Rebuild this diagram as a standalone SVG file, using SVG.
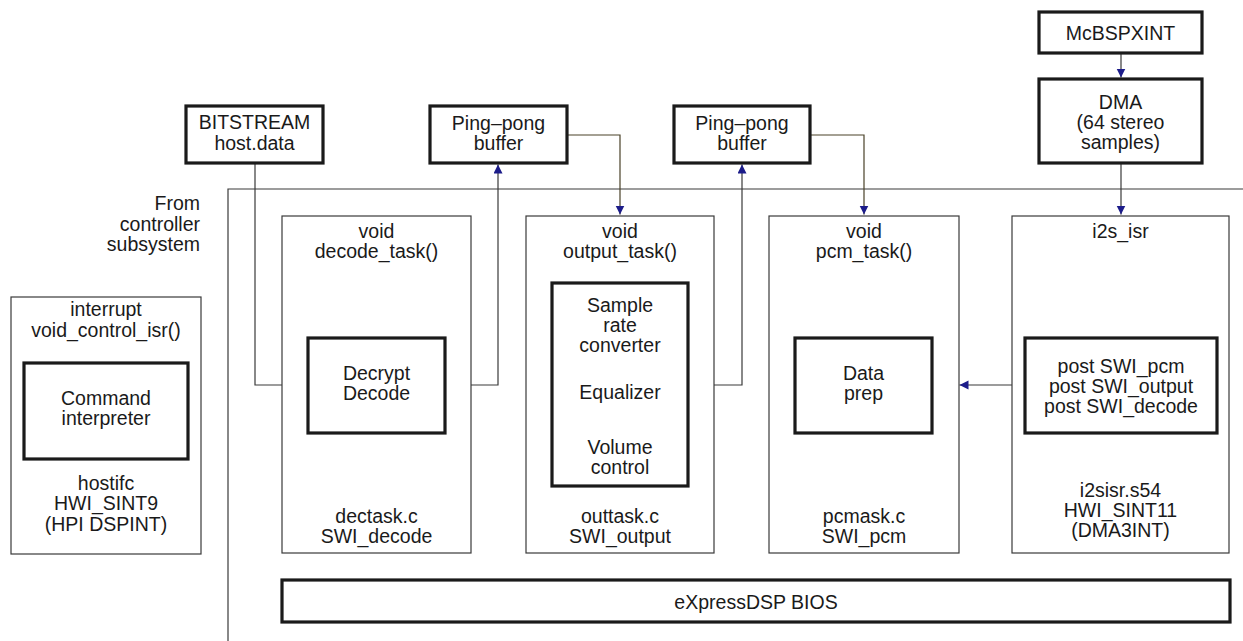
<svg xmlns="http://www.w3.org/2000/svg" width="1243" height="641" viewBox="0 0 1243 641">
  <style>
    text { font-family: "Liberation Sans", Arial, sans-serif; font-size: 19.5px; fill: #1a1a1a; text-anchor: middle; }
    .right { text-anchor: end; }
    .thin { fill: #fff; stroke: #3a3a3a; stroke-width: 1.2; }
    .thick { fill: #fff; stroke: #1a1a1a; stroke-width: 3.2; }
    .wire { fill: none; stroke: #3a3a3a; stroke-width: 1.2; }
    .wire2 { fill: none; stroke: #4a4228; stroke-width: 1.2; }
  </style>
  <defs>
    <marker id="arrow" markerUnits="userSpaceOnUse" markerWidth="10" markerHeight="10" refX="9" refY="4.5" orient="auto">
      <path d="M0,0 L9,4.5 L0,9 z" fill="#1c1c8a"/>
    </marker>
  </defs>
  <rect width="1243" height="641" fill="#fff"/>

  <!-- Controller subsystem boundary -->
  <g id="frame">
    <path class="wire" d="M1243,189 H228 V641"/>
    <text class="right" x="200" y="210">From</text>
    <text class="right" x="200" y="231">controller</text>
    <text class="right" x="200" y="251">subsystem</text>
  </g>

  <!-- Connectors -->
  <g id="connectors">
    <path class="wire" d="M255,163 V385 H306" marker-end="url(#arrow)"/>
    <path class="wire" d="M445,385 H498 V164.5" marker-end="url(#arrow)"/>
    <path class="wire2" d="M567,135 H620 V214.5" marker-end="url(#arrow)"/>
    <path class="wire" d="M714,385 H742 V164.5" marker-end="url(#arrow)"/>
    <path class="wire2" d="M810,135 H864 V214.5" marker-end="url(#arrow)"/>
    <path class="wire" d="M1121,53 V77.5" marker-end="url(#arrow)"/>
    <path class="wire" d="M1121,163 V214.5" marker-end="url(#arrow)"/>
    <path class="wire" d="M1012,385 H959.5" marker-end="url(#arrow)"/>
  </g>

  <g id="bitstream">
    <rect class="thick" x="186" y="106" width="137" height="57"/>
    <text x="254.5" y="129">BITSTREAM</text>
    <text x="254.5" y="150">host.data</text>
  </g>

  <g id="pingpong1">
    <rect class="thick" x="430" y="106" width="137" height="57"/>
    <text x="498.5" y="130">Ping–pong</text>
    <text x="498.5" y="150">buffer</text>
  </g>

  <g id="pingpong2">
    <rect class="thick" x="674" y="106" width="136" height="57"/>
    <text x="742" y="130">Ping–pong</text>
    <text x="742" y="150">buffer</text>
  </g>

  <g id="mcbspxint">
    <rect class="thick" x="1039" y="12" width="163" height="41"/>
    <text x="1120.5" y="40">McBSPXINT</text>
  </g>

  <g id="dma">
    <rect class="thick" x="1039" y="79" width="163" height="84"/>
    <text x="1120.5" y="109">DMA</text>
    <text x="1120.5" y="129">(64 stereo</text>
    <text x="1120.5" y="149">samples)</text>
  </g>

  <g id="control-isr">
    <rect class="thin" x="11" y="297" width="190" height="257"/>
    <text x="106" y="316">interrupt</text>
    <text x="106" y="337">void_control_isr()</text>
    <rect class="thick" x="24" y="363" width="164" height="96"/>
    <text x="106" y="405">Command</text>
    <text x="106" y="425">interpreter</text>
    <text x="106" y="490">hostifc</text>
    <text x="106" y="510">HWI_SINT9</text>
    <text x="106" y="531">(HPI DSPINT)</text>
  </g>

  <g id="decode-task">
    <rect class="thin" x="282" y="216" width="189" height="337"/>
    <text x="376.5" y="238">void</text>
    <text x="376.5" y="258">decode_task()</text>
    <rect class="thick" x="308" y="338" width="137" height="95"/>
    <text x="376.5" y="380">Decrypt</text>
    <text x="376.5" y="400">Decode</text>
    <text x="376.5" y="523">dectask.c</text>
    <text x="376.5" y="543">SWI_decode</text>
  </g>

  <g id="output-task">
    <rect class="thin" x="526" y="216" width="188" height="337"/>
    <text x="620" y="238">void</text>
    <text x="620" y="258">output_task()</text>
    <rect class="thick" x="552" y="283" width="136" height="203"/>
    <text x="620" y="312">Sample</text>
    <text x="620" y="332">rate</text>
    <text x="620" y="352">converter</text>
    <text x="620" y="399">Equalizer</text>
    <text x="620" y="454">Volume</text>
    <text x="620" y="474">control</text>
    <text x="620" y="523">outtask.c</text>
    <text x="620" y="543">SWI_output</text>
  </g>

  <g id="pcm-task">
    <rect class="thin" x="769" y="216" width="190" height="337"/>
    <text x="864" y="238">void</text>
    <text x="864" y="258">pcm_task()</text>
    <rect class="thick" x="795" y="338" width="137" height="95"/>
    <text x="863.5" y="380">Data</text>
    <text x="863.5" y="400">prep</text>
    <text x="864" y="523">pcmask.c</text>
    <text x="864" y="543">SWI_pcm</text>
  </g>

  <g id="i2s-isr">
    <rect class="thin" x="1012" y="216" width="217" height="337"/>
    <text x="1120.5" y="238">i2s_isr</text>
    <rect class="thick" x="1025" y="338" width="192" height="95"/>
    <text x="1121" y="373">post SWI_pcm</text>
    <text x="1121" y="393">post SWI_output</text>
    <text x="1121" y="413">post SWI_decode</text>
    <text x="1120.5" y="497">i2sisr.s54</text>
    <text x="1120.5" y="517">HWI_SINT11</text>
    <text x="1120.5" y="537">(DMA3INT)</text>
  </g>

  <g id="bios">
    <rect class="thick" x="282" y="580" width="948" height="42"/>
    <text x="756" y="609">eXpressDSP BIOS</text>
  </g>
</svg>
